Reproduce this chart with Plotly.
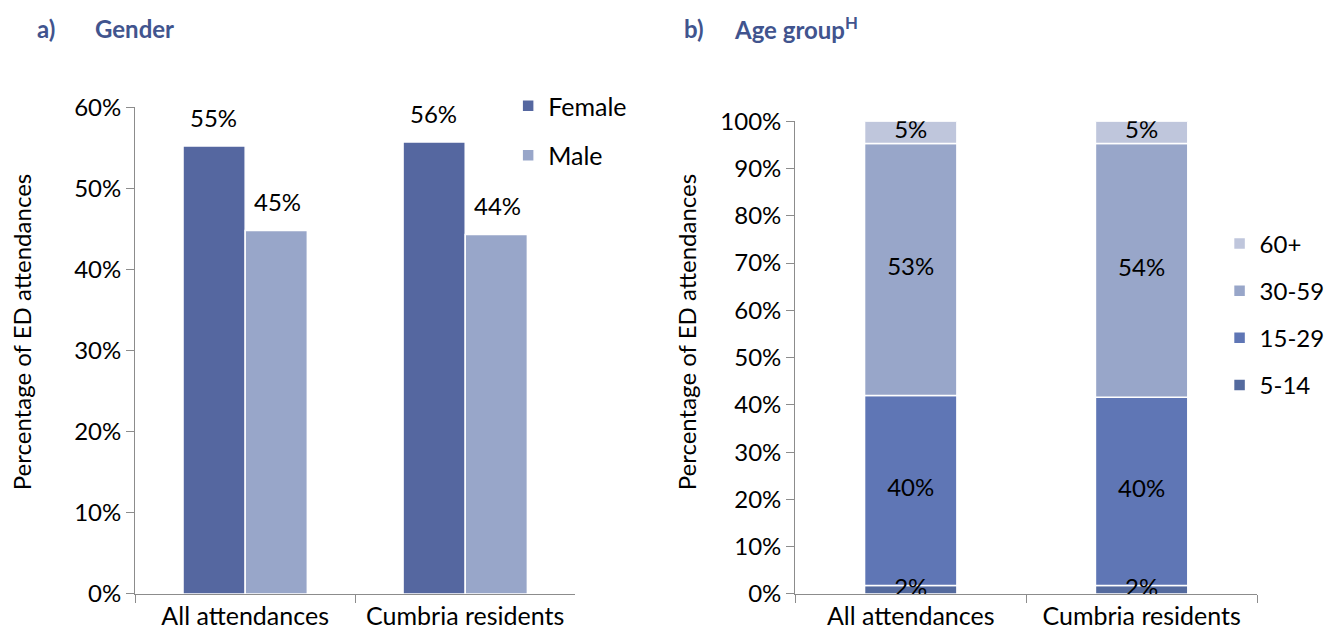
import plotly.graph_objects as go
import numpy as np

categories = ["All attendances", "Cumbria residents"]

# Panel a) Gender
female = [55.2, 55.7]
male = [44.8, 44.3]
female_labels = ["55%", "56%"]
male_labels = ["45%", "44%"]

# Panel b) Age group (stack bottom -> top)
age_groups = ["5-14", "15-29", "30-59", "60+"]
age_values = {
    "5-14": [1.8, 1.8],
    "15-29": [40.2, 39.8],
    "30-59": [53.3, 53.7],
    "60+": [4.7, 4.7],
}
age_labels = {
    "5-14": ["2%", "2%"],
    "15-29": ["40%", "40%"],
    "30-59": ["53%", "54%"],
    "60+": ["5%", "5%"],
}

c_female = "#5567A0"
c_male = "#98A6C9"
age_colors = {"5-14": "#546A9E", "15-29": "#5F76B5", "30-59": "#98A6C9", "60+": "#BFC6DC"}
title_color = "#41548E"
axis_color = "#8C8C8C"
FONT = "Lato"
FS = 24

W, H = 1330, 639


def PX(x):
    x = (x - 2) / 0.9835
    return ((x + 1) / 0.9925) / W


def PY(y):
    return 1 - ((y - 16) / 0.953) / H


fig = go.Figure()

fig.add_trace(go.Bar(x=categories, y=female, name="Female", marker=dict(color=c_female, line=dict(color="white", width=1.5)),
                     xaxis="x", yaxis="y", legend="legend", legendgroup="f", hoverinfo="skip"))
fig.add_trace(go.Bar(x=categories, y=male, name="Male", marker=dict(color=c_male, line=dict(color="white", width=1.5)),
                     xaxis="x", yaxis="y", legend="legend", legendgroup="m", hoverinfo="skip"))

bases = np.zeros(len(categories))
mids = {}
for k, g in enumerate(age_groups):
    vals = np.array(age_values[g])
    fig.add_trace(go.Bar(x=categories, y=vals, base=bases.copy(), name=g, offsetgroup="stack", width=0.4,
                         marker=dict(color=age_colors[g], line=dict(color="white", width=1.5)),
                         xaxis="x2", yaxis="y2", legend="legend2", legendgroup=g,
                         legendrank=100 - k, hoverinfo="skip"))
    mids[g] = bases + vals / 2
    bases = bases + vals

for g in age_groups:
    fig.add_trace(go.Scatter(x=categories, y=mids[g], mode="text", text=age_labels[g],
                             textfont=dict(family=FONT, size=FS, color="black"),
                             xaxis="x2", yaxis="y2", showlegend=False, hoverinfo="skip"))

annotations = []
for i, cat in enumerate(categories):
    annotations.append(dict(x=cat, y=female[i], xref="x", yref="y", text=female_labels[i], showarrow=False,
                            xshift=-32, yshift=29, font=dict(family=FONT, size=FS, color="black")))
    annotations.append(dict(x=cat, y=male[i], xref="x", yref="y", text=male_labels[i], showarrow=False,
                            xshift=32, yshift=29, font=dict(family=FONT, size=FS, color="black")))

tfont = dict(family=FONT, size=24, color=title_color)
paper_ann = [
    dict(x=36, y=28, text="<b>a)</b>", xanchor="left", font=tfont),
    dict(x=95, y=28, text="<b>Gender</b>", xanchor="left", font=tfont),
    dict(x=692, y=28, text="<b>b)</b>", xanchor="left", font=tfont),
    dict(x=743, y=28, text="<b>Age group<sup>H</sup></b>", xanchor="left", font=tfont),
    dict(x=23, y=332, text="Percentage of ED attendances", textangle=-90, xanchor="center",
         font=dict(family=FONT, size=FS, color="black")),
    dict(x=697, y=332, text="Percentage of ED attendances", textangle=-90, xanchor="center",
         font=dict(family=FONT, size=FS, color="black")),
]
for a in paper_ann:
    a.update(xref="paper", yref="paper", showarrow=False, yanchor="middle",
             x=PX(a["x"]), y=PY(a["y"]))
annotations += paper_ann

axis_common = dict(showline=True, linecolor=axis_color, linewidth=1.3, ticks="outside", tickcolor=axis_color,
                   ticklen=8, tickwidth=1.3, showgrid=False, zeroline=False)
yfont = dict(tickfont=dict(family=FONT, size=FS, color="black"))
xfont = dict(tickfont=dict(family=FONT, size=25, color="black"))

fig.update_layout(
    width=W, height=H, autosize=False,
    margin=dict(l=0, r=0, t=0, b=0, pad=0),
    paper_bgcolor="white", plot_bgcolor="white",
    barmode="group", bargap=0.435, bargroupgap=0.0,
    xaxis=dict(domain=[PX(138), PX(584)], anchor="y", tickson="boundaries", **axis_common, **xfont),
    yaxis=dict(domain=[PY(593), PY(107)], anchor="x", range=[0, 60], dtick=10, ticksuffix="%", **axis_common, **yfont),
    xaxis2=dict(domain=[PX(807), PX(1275)], anchor="y2", tickson="boundaries", **axis_common, **xfont),
    yaxis2=dict(domain=[PY(593), PY(121)], anchor="x2", range=[0, 100], dtick=10, ticksuffix="%", **axis_common, **yfont),
    legend=dict(x=PX(516), y=PY(83), xanchor="left", yanchor="top", font=dict(family=FONT, size=25, color="black"),
                bgcolor="rgba(0,0,0,0)", traceorder="grouped", tracegroupgap=14),
    legend2=dict(x=PX(1237), y=PY(221), xanchor="left", yanchor="top", font=dict(family=FONT, size=FS, color="black"),
                 bgcolor="rgba(0,0,0,0)", traceorder="grouped", tracegroupgap=13),
    annotations=annotations,
    showlegend=True,
)

fig.write_html("out.html", config={"displayModeBar": False},
               post_script="document.body.style.margin='0';document.body.style.overflow='hidden';")
